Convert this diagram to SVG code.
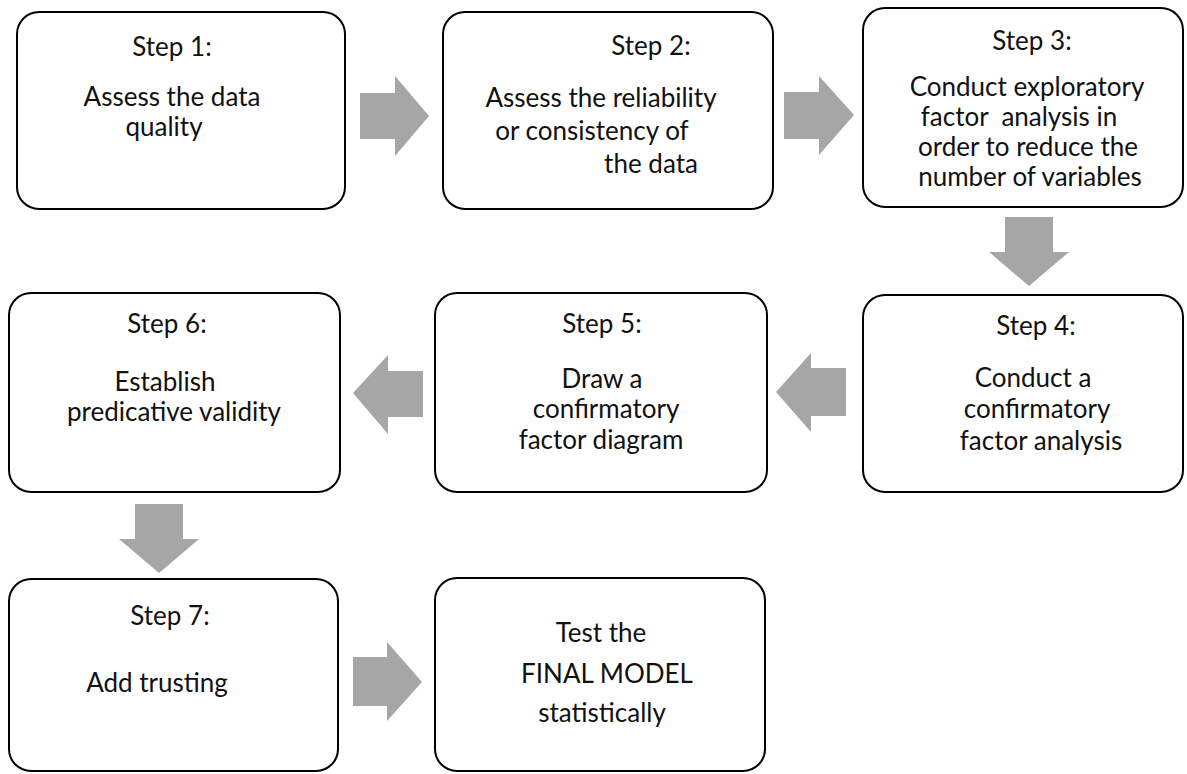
<svg xmlns="http://www.w3.org/2000/svg" width="1187" height="774" viewBox="0 0 1187 774">
  <style>
    .box { fill: #ffffff; stroke: #000000; stroke-width: 2; }
    .lbl { font-family: Lato, "Open Sans", "Liberation Sans", sans-serif; font-size: 26px; fill: #111111; text-anchor: middle; white-space: pre; }
    .arrow { fill: #a6a6a6; stroke: none; }
  </style>
  <rect width="1187" height="774" fill="#ffffff"/>

  <!-- block arrows between the steps -->
  <g id="connectors">
    <polygon class="arrow" points="360,93 395,93 395,76 429,116 395,156 395,139 360,139"/>
    <polygon class="arrow" points="784,92 819,92 819,76 854,115 819,155 819,139 784,139"/>
    <polygon class="arrow" points="1005,217 1053,217 1053,252 1069,252 1029,286 989,252 1005,252"/>
    <polygon class="arrow" points="846,368 811,368 811,353 776,392 811,432 811,416 846,416"/>
    <polygon class="arrow" points="423,371 388,371 388,355 353,393 388,434 388,417 423,417"/>
    <polygon class="arrow" points="135,504 183,504 183,539 199,539 159,573 119,539 135,539"/>
    <polygon class="arrow" points="353,657 387,657 387,642 422,682 387,721 387,706 353,706"/>
  </g>

  <g id="step1">
    <rect class="box" x="17" y="12" width="328" height="197" rx="22"/>
    <text class="lbl" x="172" y="56">Step 1:</text>
    <text class="lbl" x="172" y="106">Assess the data</text>
    <text class="lbl" x="164" y="136">quality</text>
  </g>

  <g id="step2">
    <rect class="box" x="443" y="12" width="330" height="197" rx="22"/>
    <text class="lbl" x="651" y="55">Step 2:</text>
    <text class="lbl" x="601" y="107">Assess the reliability</text>
    <text class="lbl" x="592" y="140">or consistency of</text>
    <text class="lbl" x="651" y="173">the data</text>
  </g>

  <g id="step3">
    <rect class="box" x="863" y="8" width="320" height="199" rx="22"/>
    <text class="lbl" x="1032" y="50">Step 3:</text>
    <text class="lbl" x="1027" y="96">Conduct exploratory</text>
    <text class="lbl" x="1019" y="126">factor  analysis in</text>
    <text class="lbl" x="1028" y="156">order to reduce the</text>
    <text class="lbl" x="1030" y="186">number of variables</text>
  </g>

  <g id="step4">
    <rect class="box" x="863" y="295" width="320" height="197" rx="22"/>
    <text class="lbl" x="1036" y="335">Step 4:</text>
    <text class="lbl" x="1033" y="387">Conduct a</text>
    <text class="lbl" x="1037" y="418">confirmatory</text>
    <text class="lbl" x="1041" y="450">factor analysis</text>
  </g>

  <g id="step5">
    <rect class="box" x="435" y="293" width="332" height="199" rx="22"/>
    <text class="lbl" x="602" y="333">Step 5:</text>
    <text class="lbl" x="602" y="388">Draw a</text>
    <text class="lbl" x="606" y="418">confirmatory</text>
    <text class="lbl" x="601" y="449">factor diagram</text>
  </g>

  <g id="step6">
    <rect class="box" x="9" y="293" width="331" height="199" rx="22"/>
    <text class="lbl" x="167" y="333">Step 6:</text>
    <text class="lbl" x="165" y="391">Establish</text>
    <text class="lbl" x="174" y="421">predicative validity</text>
  </g>

  <g id="step7">
    <rect class="box" x="9" y="579" width="329" height="192" rx="22"/>
    <text class="lbl" x="170" y="625">Step 7:</text>
    <text class="lbl" x="157" y="692">Add trusting</text>
  </g>

  <g id="final-model">
    <rect class="box" x="435" y="578" width="330" height="193" rx="22"/>
    <text class="lbl" x="601" y="642">Test the</text>
    <text class="lbl" x="607" y="683">FINAL MODEL</text>
    <text class="lbl" x="602" y="722">statistically</text>
  </g>
</svg>
